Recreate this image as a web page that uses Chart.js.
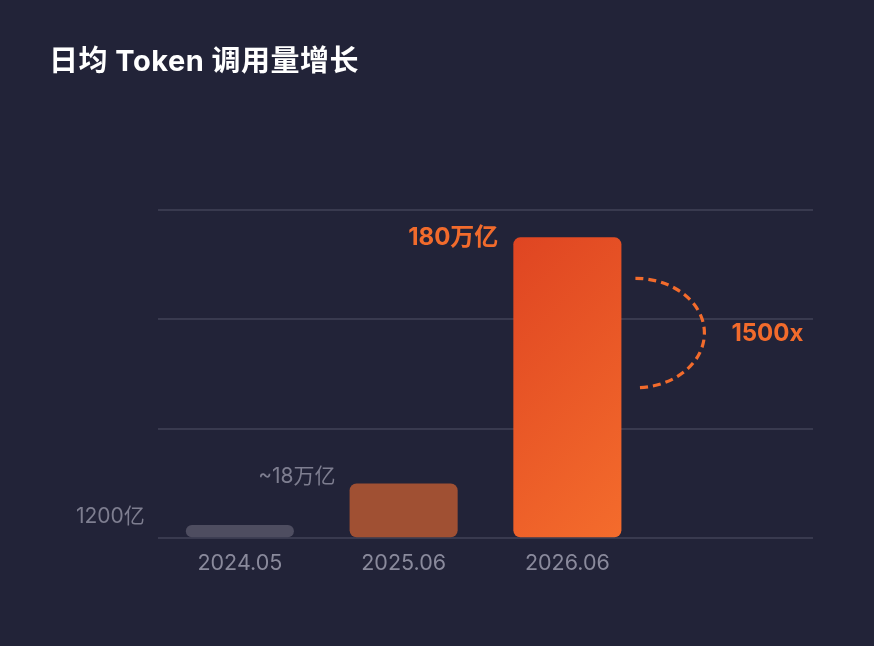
<!DOCTYPE html>
<html>
<head>
<meta charset="utf-8">
<script src="https://cdn.jsdelivr.net/npm/chart.js@4/dist/chart.umd.min.js"></script>
<style>
  html, body { margin: 0; padding: 0; background: #222338; }
  #wrap { position: relative; width: 874px; height: 646px; }
  #title {
    position: absolute; left: 49px; top: 45px;
    font: bold 29px Inter, "Noto Sans CJK SC", sans-serif;
    line-height: 32px; color: #ffffff; letter-spacing: 0.5px;
  }
  canvas { position: absolute; left: 0; top: 0; }
</style>
</head>
<body>
<div id="wrap">
  <canvas id="growthChart" width="874" height="646"></canvas>
  <div id="title">日均 Token 调用量增长</div>
</div>
<script>
  // chart data
  const categories = ['2024.05', '2025.06', '2026.06', ''];
  const barHeights = [12, 50, 275, null]; // drawn heights (bars are not to scale)
  const valueLabels = ['1200亿', '~18万亿', '180万亿'];
  const multiplierLabel = '1500x';
  const gridTicks = [0, 100, 200, 300];

  const FONT = 'Inter, "Noto Sans CJK SC", sans-serif';
  const ORANGE = '#f26b2c';

  // bar 3 gets a 135deg gradient
  function barColor(c) {
    const i = c.dataIndex;
    if (i === 0) return '#4e4d60';
    if (i === 1) return '#a05033';
    const chart = c.chart;
    const xs = chart.scales.x, ys = chart.scales.y;
    if (!chart.chartArea || !xs || !ys) return '#e8552a';
    const cx = xs.getPixelForValue(i);
    const w = xs.width / categories.length * 0.66;
    const top = ys.getPixelForValue(barHeights[i]);
    const bottom = ys.getPixelForValue(0);
    if (![cx, w, top, bottom].every(Number.isFinite)) return '#e8552a';
    const cy = (top + bottom) / 2;
    const half = (w + (bottom - top)) / Math.SQRT2 / 2;
    const d = half / Math.SQRT2;
    const g = chart.ctx.createLinearGradient(cx - d, cy - d, cx + d, cy + d);
    g.addColorStop(0, '#df4522');
    g.addColorStop(1, '#f46c2c');
    return g;
  }

  // value labels to the left of each bar's top + dashed bracket
  const labelPlugin = {
    id: 'labelPlugin',
    afterDatasetsDraw(chart) {
      const ctx = chart.ctx;
      const bars = chart.getDatasetMeta(0).data;
      const offsets = [[-41, -8], [-14, -7], [-15, 0]];
      ctx.save();
      ctx.textAlign = 'right';
      ctx.textBaseline = 'middle';
      valueLabels.forEach((txt, i) => {
        const b = bars[i];
        const left = b.x - b.width / 2;
        if (i === 2) {
          ctx.fillStyle = ORANGE;
          ctx.font = 'bold 24px ' + FONT;
        } else {
          ctx.fillStyle = '#7e7e90';
          ctx.font = '21px ' + FONT;
        }
        ctx.fillText(txt, left + offsets[i][0], b.y + offsets[i][1]);
      });

      // dashed half-ellipse next to the tallest bar
      const b = bars[2];
      const ys = chart.scales.y;
      const step = ys.getPixelForValue(0) - ys.getPixelForValue(100);
      const x0 = b.x + b.width / 2 + 14;
      const yc = b.y + 41 + step / 2;
      const rx = 69;
      ctx.beginPath();
      ctx.setLineDash([8, 5]);
      ctx.lineWidth = 3.2;
      ctx.strokeStyle = ORANGE;
      ctx.ellipse(x0, yc, rx, step / 2, 0, -Math.PI / 2, Math.PI / 2);
      ctx.stroke();
      ctx.setLineDash([]);

      ctx.textAlign = 'left';
      ctx.fillStyle = ORANGE;
      ctx.font = 'bold 24px ' + FONT;
      ctx.fillText(multiplierLabel, x0 + rx + 27, yc + 1);
      ctx.restore();
    }
  };

  const ctx = document.getElementById('growthChart').getContext('2d');
  const growthChart = new Chart(ctx, {
    type: 'bar',
    data: {
      labels: categories,
      datasets: [{
        data: barHeights,
        backgroundColor: barColor,
        borderRadius: (c) => c.dataIndex === 0 ? 6 : 7,
        borderSkipped: false,
        categoryPercentage: 1,
        barPercentage: 0.66
      }]
    },
    options: {
      responsive: false,
      animation: false,
      layout: { padding: { left: 158, right: 61, top: 210, bottom: 66 } },
      scales: {
        x: {
          grid: { display: false },
          border: { display: false },
          ticks: { color: '#8a8a9c', font: { family: FONT, size: 21.5 }, padding: 4 }
        },
        y: {
          min: 0,
          max: 300,
          afterBuildTicks: (s) => { s.ticks = gridTicks.map(v => ({ value: v })); },
          afterFit: (s) => { s.width = 0; },
          ticks: { display: false },
          border: { display: false },
          grid: { color: '#393a4f', lineWidth: 2, drawTicks: false }
        }
      },
      plugins: {
        legend: { display: false },
        tooltip: { enabled: false }
      }
    },
    plugins: [labelPlugin]
  });
</script>
</body>
</html>
